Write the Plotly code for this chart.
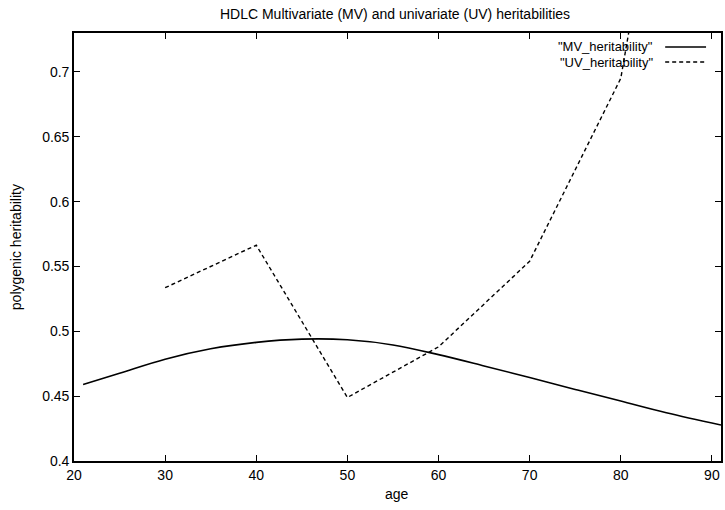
import plotly.graph_objects as go

# Data
mv_age = [21, 25, 30, 35, 40, 45, 50, 55, 60, 65, 70, 75, 80, 85, 91]
mv_h = [0.459, 0.4677, 0.4785, 0.4865, 0.4915, 0.4940, 0.4935, 0.4895, 0.4820,
        0.4733, 0.4643, 0.4552, 0.4462, 0.4372, 0.4277]
uv_age = [30, 40, 50, 60, 70, 80, 90]
uv_h = [0.5336, 0.5664, 0.449, 0.488, 0.554, 0.695, 1.1]
x_ticks = [20, 30, 40, 50, 60, 70, 80, 90]
y_ticks = [0.4, 0.45, 0.5, 0.55, 0.6, 0.65, 0.7]
y_labels = ["0.4", "0.45", "0.5", "0.55", "0.6", "0.65", "0.7"]

FONT = "Liberation Sans, Arial, sans-serif"
W, H = 725, 510
L, R, T, B = 74, 2, 33, 49
pw, ph = W - L - R, H - T - B

def px(x):
    return (x - L) / pw

def py(y):
    return (H - B - y) / ph

fig = go.Figure()
fig.add_trace(go.Scatter(x=mv_age, y=mv_h, mode="lines", line_shape="spline",
                         line=dict(color="black", width=1.6), showlegend=False,
                         name="MV_heritability"))
fig.add_trace(go.Scatter(x=uv_age, y=uv_h, mode="lines",
                         line=dict(color="black", width=1.4, dash="4px,3px"),
                         showlegend=False, name="UV_heritability"))

axis_common = dict(showline=True, linecolor="black", linewidth=1.6, mirror="ticks",
                   ticks="inside", ticklen=6, tickcolor="black", tickwidth=1.2,
                   showgrid=False, zeroline=False,
                   tickfont=dict(family=FONT, size=14, color="black"))
fig.update_xaxes(range=[20, 91], tickvals=x_ticks, **axis_common)
fig.update_yaxes(range=[0.4, 0.73], tickvals=y_ticks, ticktext=y_labels, **axis_common)

# manual gnuplot-style key
KEY_Y = [47, 62]
fig.add_annotation(x=px(656), y=py(KEY_Y[0]), xref="paper", yref="paper", text='"MV_heritability"',
                   showarrow=False, xanchor="right", yanchor="middle", borderpad=0,
                   font=dict(family=FONT, size=13, color="black"))
fig.add_annotation(x=px(656), y=py(KEY_Y[1]), xref="paper", yref="paper", text='"UV_heritability"',
                   showarrow=False, xanchor="right", yanchor="middle", borderpad=0,
                   font=dict(family=FONT, size=13, color="black"))
fig.add_shape(type="line", xref="paper", yref="paper", x0=px(667), x1=px(708),
              y0=py(KEY_Y[0]), y1=py(KEY_Y[0]), line=dict(color="black", width=1.6))
fig.add_shape(type="line", xref="paper", yref="paper", x0=px(667), x1=px(708),
              y0=py(KEY_Y[1]), y1=py(KEY_Y[1]), line=dict(color="black", width=1.4, dash="4px,3px"))

# axis titles
fig.add_annotation(x=px(16), y=py(247), xref="paper", yref="paper", text="polygenic heritability",
                   textangle=-90, showarrow=False, xanchor="center", yanchor="middle",
                   font=dict(family=FONT, size=14, color="black"))
fig.add_annotation(x=px(398), y=py(494), xref="paper", yref="paper", text="age",
                   showarrow=False, xanchor="center", yanchor="middle",
                   font=dict(family=FONT, size=14, color="black"))

fig.update_layout(
    width=W, height=H,
    margin=dict(l=L, r=R, t=T, b=B),
    paper_bgcolor="white", plot_bgcolor="white",
    title=dict(text="HDLC Multivariate (MV) and univariate (UV) heritabilities",
               x=px(396), xref="paper", xanchor="center", y=1 - 14 / H, yanchor="middle",
               font=dict(family=FONT, size=14, color="black")),
)
fig.write_html("out.html")
